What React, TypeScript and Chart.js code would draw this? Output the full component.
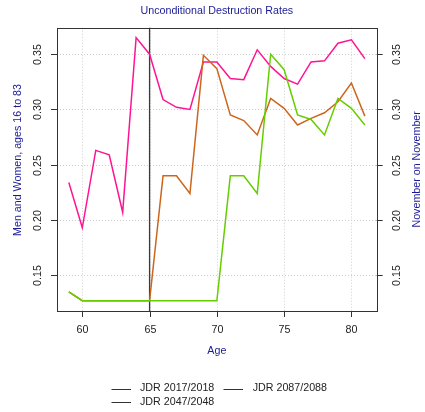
import React, { useEffect, useRef } from "react";
import { Chart, registerables } from "chart.js";

Chart.register(...registerables);

const ages = [59, 60, 61, 62, 63, 64, 65, 66, 67, 68, 69, 70, 71, 72, 73, 74, 75, 76, 77, 78, 79, 80, 81];
const seriesLabels = ["JDR 2017/2018", "JDR 2047/2048", "JDR 2087/2088"];
const jdr2017 = [0.234, 0.193, 0.263, 0.259, 0.207, 0.365, 0.350, 0.309, 0.302, 0.300, 0.343, 0.343, 0.328, 0.327, 0.354, 0.339, 0.328, 0.323, 0.343, 0.344, 0.360, 0.363, 0.346];
const jdr2047 = [0.135, 0.127, 0.127, 0.127, 0.127, 0.127, 0.127, 0.240, 0.240, 0.224, 0.349, 0.337, 0.295, 0.290, 0.277, 0.310, 0.301, 0.286, 0.292, 0.297, 0.307, 0.324, 0.294];
const jdr2087 = [0.135, 0.127, 0.127, 0.127, 0.127, 0.127, 0.127, 0.127, 0.127, 0.127, 0.127, 0.127, 0.240, 0.240, 0.224, 0.350, 0.336, 0.295, 0.291, 0.277, 0.310, 0.301, 0.286];
const seriesColors = ["#FF1493", "#CD661D", "#66CD00"];
const xTicks = [60, 65, 70, 75, 80];
const yTicks = [0.15, 0.2, 0.25, 0.3, 0.35];
const yTickLabels = ["0.15", "0.20", "0.25", "0.30", "0.35"];
const refAge = 65;
const titleText = "Unconditional Destruction Rates";
const xTitle = "Age";
const yLeftTitle = "Men and Women, ages 16 to 83";
const yRightTitle = "November on November";

const FONT = '10.7px "Liberation Sans", Arial, sans-serif';
const LABEL_BLUE = "#1a1a96";
const TEXT = "#222";

const framePlugin = {
  id: "frame",
  beforeDatasetsDraw(chart: any) {
    const { ctx, chartArea: a, scales } = chart;
    const x = scales.x, y = scales.y;
    ctx.save();
    ctx.strokeStyle = "#cfcfcf";
    ctx.lineWidth = 1;
    ctx.setLineDash([1, 2]);
    for (const v of xTicks) {
      const px = Math.round(x.getPixelForValue(v)) + 0.5;
      ctx.beginPath(); ctx.moveTo(px, a.top); ctx.lineTo(px, a.bottom); ctx.stroke();
    }
    for (const v of yTicks) {
      const py = Math.round(y.getPixelForValue(v)) + 0.5;
      ctx.beginPath(); ctx.moveTo(a.left, py); ctx.lineTo(a.right, py); ctx.stroke();
    }
    ctx.setLineDash([]);
    ctx.strokeStyle = "#3a3a3a";
    ctx.lineWidth = 1.3;
    const rx = x.getPixelForValue(refAge);
    ctx.beginPath(); ctx.moveTo(rx, a.top); ctx.lineTo(rx, a.bottom); ctx.stroke();
    ctx.restore();
  },
  afterDatasetsDraw(chart: any) {
    const { ctx, chartArea: a, scales } = chart;
    const x = scales.x, y = scales.y;
    ctx.save();
    // box
    ctx.strokeStyle = "#333";
    ctx.lineWidth = 1;
    ctx.strokeRect(Math.round(a.left) + 0.5, Math.round(a.top) + 0.5, Math.round(a.right - a.left), Math.round(a.bottom - a.top));
    const tl = 6;
    ctx.font = FONT;
    ctx.fillStyle = TEXT;
    // x ticks
    ctx.textAlign = "center";
    ctx.textBaseline = "middle";
    for (const v of xTicks) {
      const px = Math.round(x.getPixelForValue(v)) + 0.5;
      ctx.beginPath(); ctx.moveTo(px, a.bottom); ctx.lineTo(px, a.bottom + tl); ctx.stroke();
      ctx.fillText(String(v), px, a.bottom + 19);
    }
    // y ticks both sides
    yTicks.forEach((v, i) => {
      const py = Math.round(y.getPixelForValue(v)) + 0.5;
      ctx.beginPath(); ctx.moveTo(a.left - tl, py); ctx.lineTo(a.left, py); ctx.stroke();
      ctx.beginPath(); ctx.moveTo(a.right, py); ctx.lineTo(a.right + tl, py); ctx.stroke();
      for (const cx of [a.left - 19, a.right + 20]) {
        ctx.save();
        ctx.translate(cx, py);
        ctx.rotate(-Math.PI / 2);
        ctx.fillText(yTickLabels[i], 0, 0);
        ctx.restore();
      }
    });
    // titles
    ctx.fillStyle = LABEL_BLUE;
    ctx.fillText(titleText, (a.left + a.right) / 2, 11.5);
    ctx.fillText(xTitle, (a.left + a.right) / 2, a.bottom + 40);
    ctx.save();
    ctx.translate(18.5, 160);
    ctx.rotate(-Math.PI / 2);
    ctx.fillText(yLeftTitle, 0, 0);
    ctx.restore();
    ctx.save();
    ctx.translate(a.right + 40, (a.top + a.bottom) / 2);
    ctx.rotate(-Math.PI / 2);
    ctx.fillText(yRightTitle, 0, 0);
    ctx.restore();
    // legend (column-major, 2 columns)
    const cols = [{ l: 111.5, t: 140 }, { l: 223.5, t: 252.7 }];
    const rows = [388.5, 401.7];
    ctx.textAlign = "left";
    ctx.fillStyle = TEXT;
    ctx.strokeStyle = "#333";
    ctx.lineWidth = 1;
    seriesLabels.forEach((lab, i) => {
      const c = cols[Math.floor(i / 2)];
      const r = rows[i % 2];
      ctx.beginPath(); ctx.moveTo(c.l, Math.round(r) + 0.5); ctx.lineTo(c.l + 19.5, Math.round(r) + 0.5); ctx.stroke();
      ctx.fillText(lab, c.t, r);
    });
    ctx.restore();
  },
};

export default function App() {
  const ref = useRef<HTMLCanvasElement | null>(null);
  useEffect(() => {
    document.body.style.margin = "0";
    const canvas = ref.current;
    if (!canvas) return;
    const seriesValues = [jdr2017, jdr2047, jdr2087];
    const orders = [2, 1, 0];
    const chart = new Chart(canvas, {
      type: "line",
      data: {
        datasets: seriesLabels.map((label, i) => ({
          label,
          data: ages.map((a, j) => ({ x: a, y: seriesValues[i][j] })),
          borderColor: seriesColors[i],
          backgroundColor: seriesColors[i],
          borderWidth: 1.5,
          pointRadius: 0,
          tension: 0,
          fill: false,
          order: orders[i],
        })),
      },
      options: {
        responsive: false,
        animation: false,
        devicePixelRatio: 1,
        layout: { padding: { left: 57, right: 48.3, top: 27.7, bottom: 101 } },
        plugins: { legend: { display: false }, tooltip: { enabled: false }, title: { display: false } },
        scales: {
          x: { type: "linear", min: 58.12, max: 81.88, display: false },
          y: { type: "linear", min: 0.1177, max: 0.374, display: false },
        },
      },
      plugins: [framePlugin],
    });
    return () => chart.destroy();
  }, []);
  return <canvas ref={ref} width={425} height={412} style={{ display: "block", width: 425, height: 412 }} />;
}
